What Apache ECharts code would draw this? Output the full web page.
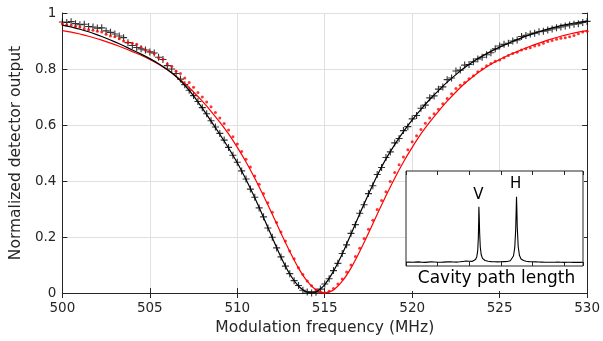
<!DOCTYPE html>
<html><head><meta charset="utf-8">
<script src="https://cdn.jsdelivr.net/npm/echarts@6/dist/echarts.min.js"></script>
<style>html,body{margin:0;padding:0;background:#fff}#c{width:603px;height:341px}</style>
</head><body><div id="c"></div>
<script>
// ---------- data ----------
const fitFreq = [500,500.5,501,501.5,502,502.5,503,503.5,504,504.5,505,505.5,506,506.5,507,507.5,508,508.5,509,509.5,510,510.5,511,511.5,512,512.5,513,513.5,514,514.5,515,515.5,516,516.5,517,517.5,518,518.5,519,519.5,520,520.5,521,521.5,522,522.5,523,523.5,524,524.5,525,525.5,526,526.5,527,527.5,528,528.5,529,529.5,530];
const blackFit = [.957,.950,.942,.933,.922,.910,.897,.883,.868,.853,.837,.819,.798,.773,.742,.704,.660,.614,.567,.518,.465,.405,.340,.270,.198,.128,.068,.025,.003,.004,.030,.078,.139,.210,.283,.353,.420,.479,.530,.576,.618,.656,.691,.723,.753,.780,.805,.827,.846,.863,.878,.892,.905,.917,.928,.938,.947,.955,.961,.967,.971];
const redFit = [.937,.932,.925,.917,.908,.898,.887,.875,.862,.849,.834,.817,.797,.774,.748,.718,.685,.649,.610,.568,.520,.468,.410,.347,.281,.213,.148,.089,.042,.011,.000,.011,.042,.089,.148,.213,.281,.347,.410,.468,.520,.568,.610,.649,.685,.718,.748,.774,.797,.817,.834,.849,.862,.875,.887,.898,.908,.917,.925,.932,.937];

const dataFreq = [500,500.25,500.5,500.75,501,501.25,501.5,501.75,502,502.25,502.5,502.75,503,503.25,503.5,503.75,504,504.25,504.5,504.75,505,505.25,505.5,505.75,506,506.25,506.5,506.75,507,507.25,507.5,507.75,508,508.25,508.5,508.75,509,509.25,509.5,509.75,510,510.25,510.5,510.75,511,511.25,511.5,511.75,512,512.25,512.5,512.75,513,513.25,513.5,513.75,514,514.25,514.5,514.75,515,515.25,515.5,515.75,516,516.25,516.5,516.75,517,517.25,517.5,517.75,518,518.25,518.5,518.75,519,519.25,519.5,519.75,520,520.25,520.5,520.75,521,521.25,521.5,521.75,522,522.25,522.5,522.75,523,523.25,523.5,523.75,524,524.25,524.5,524.75,525,525.25,525.5,525.75,526,526.25,526.5,526.75,527,527.25,527.5,527.75,528,528.25,528.5,528.75,529,529.25,529.5,529.75,530];
const blackData = [.968,.966,.969,.962,.958,.960,.952,.950,.946,.947,.936,.931,.925,.918,.912,.894,.884,.877,.872,.868,.861,.857,.842,.834,.812,.800,.784,.764,.744,.724,.705,.684,.662,.640,.615,.593,.570,.546,.520,.492,.467,.436,.407,.371,.342,.304,.272,.232,.199,.161,.129,.096,.069,.044,.027,.010,.004,.000,.003,.014,.032,.051,.080,.106,.141,.172,.213,.244,.285,.315,.355,.383,.423,.448,.484,.504,.536,.552,.580,.594,.622,.634,.660,.671,.697,.704,.728,.736,.762,.768,.793,.796,.814,.816,.826,.836,.842,.851,.858,.872,.882,.888,.892,.900,.904,.916,.920,.925,.928,.933,.935,.939,.943,.947,.950,.954,.957,.960,.962,.966,.970];
const redData = [.962,.958,.955,.953,.950,.944,.940,.938,.935,.932,.924,.918,.915,.908,.900,.895,.892,.888,.878,.868,.862,.855,.840,.835,.818,.810,.792,.784,.768,.752,.735,.716,.700,.682,.665,.645,.625,.605,.582,.558,.532,.505,.478,.450,.418,.388,.355,.322,.288,.252,.218,.186,.150,.122,.090,.066,.043,.026,.012,.004,.001,.006,.016,.032,.050,.075,.100,.130,.160,.195,.228,.260,.298,.330,.362,.398,.430,.458,.486,.512,.540,.562,.584,.606,.625,.640,.656,.676,.695,.712,.730,.742,.752,.765,.776,.790,.800,.812,.820,.828,.832,.840,.848,.855,.860,.868,.872,.876,.882,.886,.892,.898,.902,.906,.910,.912,.915,.920,.926,.932,.935];

const insetX = [0,0.1,0.2,0.3,0.4,0.5,0.6,0.7,0.8,0.9,1.0,1.1,1.2,1.3,1.4,1.5,1.6,1.7,1.8,1.9,2.0,2.1,2.15,2.2,2.24,2.27,2.29,2.30,2.306,2.315,2.33,2.35,2.38,2.42,2.5,2.6,2.7,2.8,2.9,3.0,3.1,3.2,3.3,3.36,3.4,3.44,3.47,3.49,3.496,3.505,3.52,3.55,3.59,3.64,3.72,3.8,3.9,4.0,4.1,4.2,4.3,4.4,4.5,4.6,4.7,4.8,4.9,5.0,5.1,5.2,5.3,5.4,5.5,5.6];
const insetY = [.040,.042,.039,.041,.043,.040,.038,.041,.044,.042,.040,.039,.041,.043,.045,.042,.041,.044,.048,.052,.050,.049,.054,.068,.098,.165,.31,.48,.624,.54,.35,.20,.118,.080,.058,.050,.046,.045,.043,.044,.046,.048,.055,.072,.105,.19,.38,.64,.73,.63,.41,.205,.11,.074,.058,.050,.046,.044,.043,.042,.041,.040,.040,.039,.040,.041,.039,.038,.040,.039,.038,.039,.038,.039];

const mainTicks = {min: 500, max: 530, interval: 5};
const yTicks = {min: 0, max: 1, interval: 0.2};
const labels = {x: 'Modulation frequency (MHz)', y: 'Normalized detector output', inset: 'Cavity path length', v: 'V', h: 'H'};

// ---------- chart ----------
const FONT = 'DejaVu Sans';
const AX = '#262626';
const pair = (xs, ys) => xs.map((x, i) => [x, ys[i]]);
const plus = 'path://M4.2,0h1.6v4.2h4.2v1.6h-4.2v4.2h-1.6v-4.2h-4.2v-1.6h4.2z';

const chart = echarts.init(document.getElementById('c'), null, {renderer: 'canvas'});
const baseAxisLine = {show: true, lineStyle: {color: AX, width: 1}};
const tickIn = {show: true, inside: true, length: 5, lineStyle: {color: AX, width: 1}};

chart.setOption({
  animation: false,
  backgroundColor: '#fff',
  grid: [
    {left: 58, right: 13, top: 13, bottom: 45, containLabel: false},
    {left: 406, top: 171, width: 177, height: 95, show: true, backgroundColor: '#fff', borderColor: AX, borderWidth: 1, z: 5}
  ],
  xAxis: [
    {type: 'value', gridIndex: 0, position: 'bottom', min: mainTicks.min, max: mainTicks.max, interval: mainTicks.interval,
     axisLine: baseAxisLine, axisTick: tickIn,
     axisLabel: {color: AX, fontSize: 13.5, fontFamily: FONT, margin: 8},
     splitLine: {show: true, lineStyle: {color: '#e0e0e0', width: 1}},
     name: labels.x, nameLocation: 'middle', nameGap: 27,
     nameTextStyle: {color: AX, fontSize: 15.5, fontFamily: FONT}},
    {type: 'value', gridIndex: 0, position: 'top', min: mainTicks.min, max: mainTicks.max, interval: mainTicks.interval,
     axisLine: baseAxisLine, axisTick: tickIn, axisLabel: {show: false}, splitLine: {show: false}},
    {type: 'value', gridIndex: 1, position: 'bottom', min: 0, max: 5.6, interval: 1, z: 6,
     axisLine: {show: false}, axisTick: {show: true, inside: true, length: 4, lineStyle: {color: AX}},
     axisLabel: {show: false}, splitLine: {show: false}},
    {type: 'value', gridIndex: 1, position: 'top', min: 0, max: 5.6, interval: 1, z: 6,
     axisLine: {show: false}, axisTick: {show: true, inside: true, length: 4, lineStyle: {color: AX}},
     axisLabel: {show: false}, splitLine: {show: false}}
  ],
  yAxis: [
    {type: 'value', gridIndex: 0, position: 'left', min: yTicks.min, max: yTicks.max, interval: yTicks.interval,
     axisLine: baseAxisLine, axisTick: tickIn,
     axisLabel: {color: AX, fontSize: 13.5, fontFamily: FONT, margin: 6},
     splitLine: {show: true, lineStyle: {color: '#e0e0e0', width: 1}},
     name: labels.y, nameLocation: 'middle', nameGap: 28,
     nameTextStyle: {color: AX, fontSize: 15.5, fontFamily: FONT}},
    {type: 'value', gridIndex: 0, position: 'right', min: yTicks.min, max: yTicks.max, interval: yTicks.interval,
     axisLine: baseAxisLine, axisTick: tickIn, axisLabel: {show: false}, splitLine: {show: false}},
    {type: 'value', gridIndex: 1, min: 0, max: 1, z: 6,
     axisLine: {show: false}, axisTick: {show: false}, axisLabel: {show: false}, splitLine: {show: false}}
  ],
  graphic: [
    {type: 'rect', shape: {x: 406, y: 171, width: 178, height: 120}, style: {fill: '#fff'}, z: 1, silent: true},
    {type: 'text', x: 496.5, y: 278.5, z: 10, style: {text: labels.inset, fontFamily: FONT, fontSize: 17, fill: '#000', align: 'center', verticalAlign: 'middle'}},
    {type: 'text', x: 478.5, y: 195, z: 10, style: {text: labels.v, fontFamily: FONT, fontSize: 15, fill: '#000', align: 'center', verticalAlign: 'middle'}},
    {type: 'text', x: 515.7, y: 184, z: 10, style: {text: labels.h, fontFamily: FONT, fontSize: 15, fill: '#000', align: 'center', verticalAlign: 'middle'}}
  ],
  series: [
    {type: 'scatter', xAxisIndex: 0, yAxisIndex: 0, data: pair(dataFreq, blackData), symbol: plus, symbolSize: 7,
     itemStyle: {color: '#000'}, z: 2},
    {type: 'scatter', xAxisIndex: 0, yAxisIndex: 0, data: pair(dataFreq, redData), symbol: 'circle', symbolSize: 3,
     itemStyle: {color: '#ff0000'}, z: 2},
    {type: 'line', xAxisIndex: 0, yAxisIndex: 0, data: pair(fitFreq, redFit), smooth: 0.2, showSymbol: false,
     lineStyle: {color: '#ff0000', width: 1.2}, z: 3},
    {type: 'line', xAxisIndex: 0, yAxisIndex: 0, data: pair(fitFreq, blackFit), smooth: 0.2, showSymbol: false,
     lineStyle: {color: '#000', width: 1.2}, z: 3},
    {type: 'line', xAxisIndex: 2, yAxisIndex: 2, data: pair(insetX, insetY), showSymbol: false,
     lineStyle: {color: '#000', width: 1.1}, z: 7}
  ]
});
</script></body></html>
